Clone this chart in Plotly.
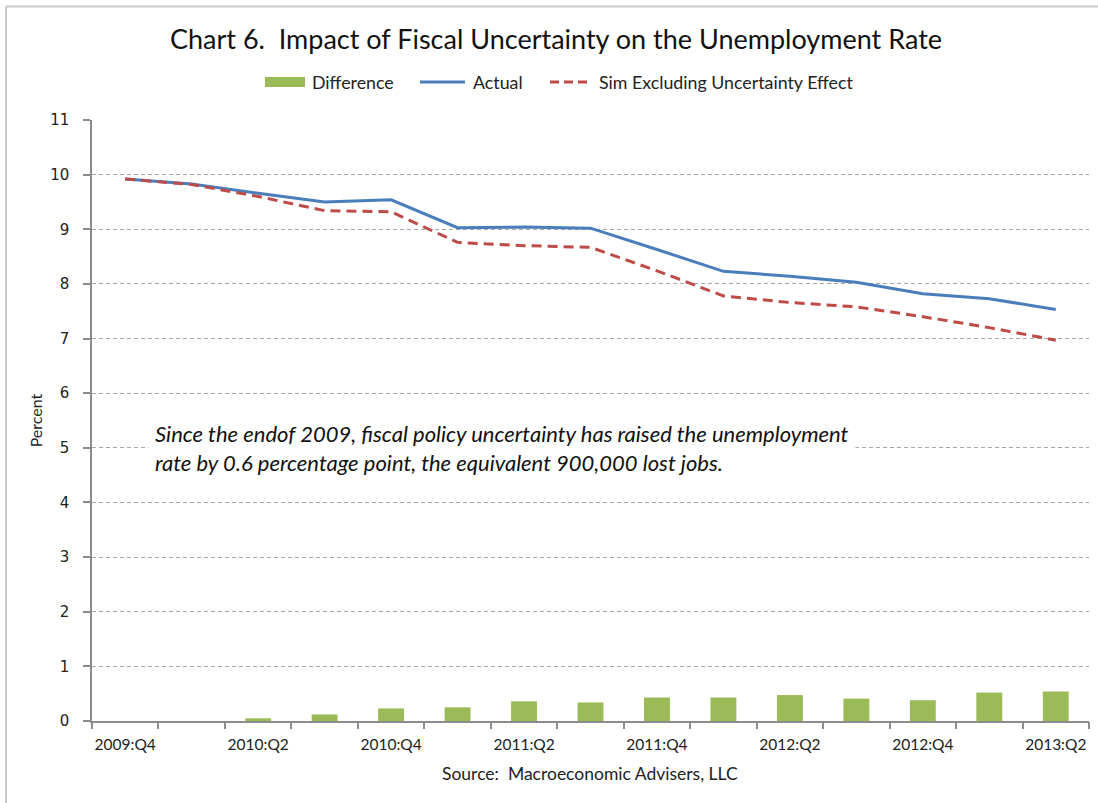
import plotly.graph_objects as go

# Quarterly data, 2009:Q4 - 2013:Q2
quarters = ["2009:Q4", "2010:Q1", "2010:Q2", "2010:Q3", "2010:Q4",
            "2011:Q1", "2011:Q2", "2011:Q3", "2011:Q4",
            "2012:Q1", "2012:Q2", "2012:Q3", "2012:Q4",
            "2013:Q1", "2013:Q2"]
actual = [9.92, 9.83, 9.66, 9.50, 9.54, 9.03, 9.04, 9.02, 8.63,
          8.23, 8.14, 8.03, 7.82, 7.73, 7.53]
sim_ex_uncertainty = [9.92, 9.82, 9.60, 9.34, 9.32, 8.76, 8.70, 8.67, 8.24,
                      7.78, 7.66, 7.58, 7.40, 7.20, 6.97]
difference = [0.0, 0.0, 0.05, 0.12, 0.23, 0.25, 0.36, 0.34, 0.43,
              0.43, 0.475, 0.41, 0.38, 0.52, 0.54]
shown_ticks = quarters[::2]

FONT = "Lato"
GRAY = "#8c8c8c"
GREEN, BLUE, RED = "#9BBB59", "#4A7EBB", "#BE4B48"
W, H = 1098, 803
ML, MR, MT, MB = 92, 9, 120, 82
plot_w = W - ML - MR
plot_h = H - MT - MB


def px_x(px):
    return (px - ML) / plot_w


def px_y(py):
    return (H - MB - py) / plot_h


fig = go.Figure()
fig.add_trace(go.Bar(x=quarters, y=difference, name="Difference",
                     marker=dict(color=GREEN, line=dict(width=0)),
                     width=0.39, showlegend=False))
fig.add_trace(go.Scatter(x=quarters, y=actual, name="Actual", mode="lines",
                         line=dict(color=BLUE, width=3), showlegend=False))
fig.add_trace(go.Scatter(x=quarters, y=sim_ex_uncertainty,
                         name="Sim Excluding Uncertainty Effect", mode="lines",
                         line=dict(color=RED, width=3, dash="10px,6px"),
                         showlegend=False))

# invisible trace on a second x axis that carries the between-category ticks
fig.add_trace(go.Scatter(x=[-0.5, 14.5], y=[None, None], xaxis="x2",
                         showlegend=False, hoverinfo="skip"))

# legend row drawn above the plot: (glyph kind, colour, glyph span, label x, label)
legend_y = 82
legend_items = [
    ("rect", GREEN, 265, 305, 310, "Difference"),
    ("solid", BLUE, 420, 465, 471, "Actual"),
    ("dash", RED, 550, 590, 597, "Sim Excluding Uncertainty Effect"),
]

shapes = [
    dict(type="line", xref="paper", yref="paper",
         x0=px_x(6), x1=px_x(W), y0=px_y(6.5), y1=px_y(6.5),
         line=dict(color="#C8C8C8", width=2)),
    dict(type="line", xref="paper", yref="paper",
         x0=px_x(6), x1=px_x(6), y0=px_y(6.5), y1=px_y(H),
         line=dict(color="#C8C8C8", width=2)),
]
annotations = []
for kind, color, g0, g1, tx, label in legend_items:
    if kind == "rect":
        shapes.append(dict(type="rect", xref="paper", yref="paper",
                           x0=px_x(g0), x1=px_x(g1),
                           y0=px_y(legend_y + 5), y1=px_y(legend_y - 5),
                           fillcolor=color, line=dict(width=0)))
    else:
        shapes.append(dict(type="line", xref="paper", yref="paper",
                           x0=px_x(g0), x1=px_x(g1),
                           y0=px_y(legend_y), y1=px_y(legend_y),
                           line=dict(color=color, width=3,
                                     dash="solid" if kind == "solid" else "9px,5px")))
    annotations.append(dict(text=label, xref="paper", yref="paper",
                            x=px_x(tx), y=px_y(legend_y),
                            xanchor="left", yanchor="middle", showarrow=False,
                            font=dict(size=17.8, family=FONT, color="#222222")))

annotations += [
    dict(text="<i>Since the endof 2009, fiscal policy uncertainty has raised the unemployment<br>"
              "rate by 0.6 percentage point, the equivalent 900,000 lost jobs.</i>",
         xref="paper", yref="y", x=px_x(148), y=5.0,
         xanchor="left", yanchor="middle", align="left", showarrow=False,
         bgcolor="white", borderpad=6,
         font=dict(size=22, family=FONT, color="#111111")),
    dict(text="Source:  Macroeconomic Advisers, LLC",
         xref="paper", yref="paper", x=px_x(590), y=px_y(773),
         xanchor="center", yanchor="middle", showarrow=False,
         font=dict(size=17.5, family=FONT, color="#222222")),
]

fig.update_layout(
    width=W, height=H,
    margin=dict(l=ML, r=MR, t=MT, b=MB),
    paper_bgcolor="white", plot_bgcolor="white",
    font=dict(family=FONT, color="#222222"),
    showlegend=False,
    title=dict(text="Chart 6.  Impact of Fiscal Uncertainty on the Unemployment Rate",
               x=556 / W, xanchor="center", y=1 - 40 / H, yanchor="middle",
               font=dict(size=27, family=FONT, color="#111111")),
    xaxis=dict(type="category", categoryorder="array", categoryarray=quarters,
               range=[-0.5, 14.5], tickmode="array", tickvals=shown_ticks,
               ticktext=shown_ticks, ticks="", showgrid=False,
               showline=True, linecolor=GRAY, linewidth=1.5,
               ticklabelstandoff=9,
               tickfont=dict(size=15.5, family=FONT, color="#222222"),
               fixedrange=True),
    xaxis2=dict(overlaying="x", range=[-0.5, 14.5], tickmode="array",
                tickvals=[i - 0.5 for i in range(16)], showticklabels=False,
                ticks="outside", ticklen=7, tickcolor=GRAY, tickwidth=1.5,
                showgrid=False, showline=False, zeroline=False,
                side="bottom", anchor="y"),
    yaxis=dict(range=[0, 11], tickmode="linear", tick0=0, dtick=1,
               ticks="outside", ticklen=7, tickcolor=GRAY, tickwidth=1.5,
               showline=True, linecolor=GRAY, linewidth=1.5,
               showgrid=True, gridcolor="#A6A6A6", griddash="4px,3px",
               gridwidth=1, zeroline=False, ticklabelstandoff=11,
               tickfont=dict(size=15, family="DejaVu Sans", color="#222222"),
               title=dict(text="Percent", standoff=4,
                          font=dict(size=16, family=FONT, color="#222222"))),
    bargap=0.6,
    shapes=shapes,
    annotations=annotations,
)

fig.write_html("out.html")
